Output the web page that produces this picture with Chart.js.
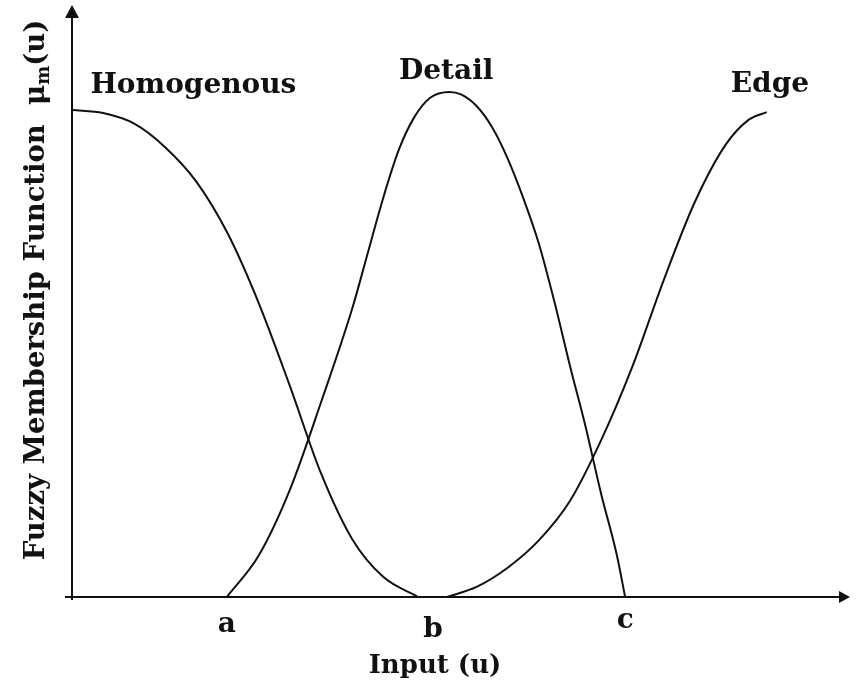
<!DOCTYPE html>
<html>
<head>
<meta charset="utf-8">
<script src="https://cdn.jsdelivr.net/npm/chart.js@4.4.1/dist/chart.umd.min.js"></script>
<style>
  body { margin: 0; background: #fff; }
</style>
</head>
<body>
<canvas id="chart" width="857" height="687"></canvas>
<script>
// Values: input u (arbitrary units) and membership mu
const homogU  = [0, 0.4, 0.8, 1.2, 1.6, 2.0, 2.4, 2.8, 3.2, 3.6, 4.0, 4.45];
const homogMu = [0.964, 0.958, 0.937, 0.890, 0.822, 0.720, 0.582, 0.418, 0.245, 0.115, 0.040, 0];

const detailU  = [1.99, 2.4, 2.8, 3.2, 3.6, 3.8, 4.0, 4.2, 4.4, 4.6, 4.85, 5.0, 5.2, 5.4, 5.6, 5.8, 6.0, 6.2, 6.4, 6.6, 6.8, 7.0, 7.11];
const detailMu = [0, 0.082, 0.212, 0.385, 0.570, 0.680, 0.790, 0.885, 0.950, 0.988, 1.0, 0.995, 0.972, 0.930, 0.868, 0.790, 0.700, 0.585, 0.458, 0.338, 0.205, 0.085, 0];

const edgeU  = [4.82, 5.2, 5.6, 6.0, 6.4, 6.8, 7.2, 7.6, 8.0, 8.4, 8.7, 8.93];
const edgeMu = [0, 0.020, 0.058, 0.112, 0.190, 0.310, 0.455, 0.625, 0.780, 0.895, 0.945, 0.960];

const tickU = [1.99, 4.64, 7.11];
const tickLabels = ['a', 'b', 'c'];

const curveNames = ['Homogenous', 'Detail', 'Edge'];

const ink = '#111';
const font = '"DejaVu Serif", "Liberation Serif", serif';

function toPoints(us, mus) {
  return us.map((u, i) => ({ x: u, y: mus[i] }));
}

// where each curve's name sits (data coords, centre / baseline)
const nameAnchors = [
  { u: 1.56, mu: 0.998 },
  { u: 4.81, mu: 1.026 },
  { u: 8.97, mu: 1.0 }
];

const axesAndText = {
  id: 'axesAndText',
  afterDraw(chart) {
    const { ctx, scales: { x, y } } = chart;
    const x0 = x.getPixelForValue(0);
    const y0 = y.getPixelForValue(0);
    const xEnd = x.right;
    const yTop = y.top;

    ctx.save();
    ctx.strokeStyle = ink;
    ctx.fillStyle = ink;
    ctx.lineWidth = 2;

    // axis lines
    ctx.beginPath();
    ctx.moveTo(x0 - 7, y0);
    ctx.lineTo(xEnd - 6, y0);
    ctx.moveTo(x0, y0 + 3);
    ctx.lineTo(x0, yTop + 8);
    ctx.stroke();

    // arrow heads
    ctx.beginPath();
    ctx.moveTo(xEnd, y0);
    ctx.lineTo(xEnd - 11, y0 - 6);
    ctx.lineTo(xEnd - 11, y0 + 6);
    ctx.closePath();
    ctx.moveTo(x0, yTop);
    ctx.lineTo(x0 - 7, yTop + 13);
    ctx.lineTo(x0 + 7, yTop + 13);
    ctx.closePath();
    ctx.fill();

    // tick letters under the axis
    ctx.textAlign = 'center';
    ctx.textBaseline = 'alphabetic';
    ctx.font = 'bold 28px ' + font;
    const drops = [35, 40, 31];
    tickLabels.forEach((t, i) => {
      ctx.fillText(t, x.getPixelForValue(tickU[i]), y0 + drops[i]);
    });

    // curve names
    ctx.font = 'bold 28px ' + font;
    curveNames.forEach((name, i) => {
      const a = nameAnchors[i];
      ctx.fillText(name, x.getPixelForValue(a.u), y.getPixelForValue(a.mu));
    });

    // x axis title
    ctx.font = 'bold 26px ' + font;
    ctx.fillText('Input (u)', 435, 673);

    // y axis title, rotated, with subscript m
    ctx.translate(44, 290);
    ctx.rotate(-Math.PI / 2);
    ctx.textAlign = 'left';
    const main = 'Fuzzy Membership Function  \u03bc';
    const big = 'bold 27.5px ' + font;
    const small = 'bold 18px ' + font;
    ctx.font = big;
    const w1 = ctx.measureText(main).width;
    const w3 = ctx.measureText('(u)').width;
    ctx.font = small;
    const w2 = ctx.measureText('m').width;
    let sx = -(w1 + w2 + w3) / 2;
    ctx.font = big;
    ctx.fillText(main, sx, 0);
    sx += w1;
    ctx.font = small;
    ctx.fillText('m', sx, 5);
    sx += w2;
    ctx.font = big;
    ctx.fillText('(u)', sx, 0);

    ctx.restore();
  }
};

const lineStyle = {
  borderColor: ink,
  borderWidth: 2,
  pointRadius: 0,
  fill: false,
  cubicInterpolationMode: 'monotone'
};

new Chart(document.getElementById('chart'), {
  type: 'line',
  data: {
    datasets: [
      { label: curveNames[0], data: toPoints(homogU, homogMu), ...lineStyle },
      { label: curveNames[1], data: toPoints(detailU, detailMu), ...lineStyle },
      { label: curveNames[2], data: toPoints(edgeU, edgeMu), ...lineStyle }
    ]
  },
  options: {
    responsive: false,
    animation: false,
    layout: { padding: { left: 72, right: 7, top: 5, bottom: 90 } },
    plugins: {
      legend: { display: false },
      tooltip: { enabled: false }
    },
    scales: {
      x: { type: 'linear', min: 0, max: 10, display: false },
      y: { min: 0, max: 1.172, display: false }
    }
  },
  plugins: [axesAndText]
});
</script>
</body>
</html>
